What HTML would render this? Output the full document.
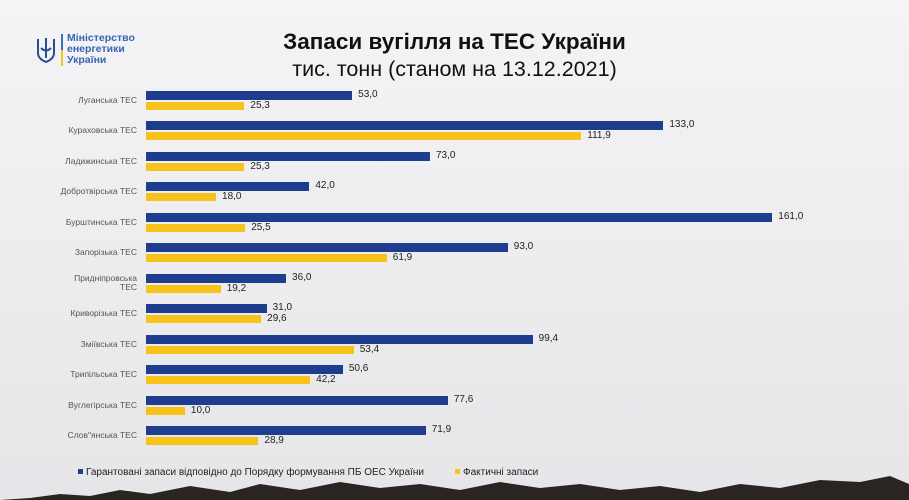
<!DOCTYPE html>
<html><head><meta charset="utf-8"><style>
body{margin:0;width:909px;height:500px;overflow:hidden;background:linear-gradient(#f4f4f6,#e6e6e9);font-family:"Liberation Sans",sans-serif;position:relative}
.t{position:absolute;left:0;width:909px;text-align:center;color:#111}
.lab{position:absolute;right:772px;font-size:8.5px;color:#555;text-align:right;line-height:9px}
.b{position:absolute;left:146px;height:9px;background:#1f3d8f}
.y{position:absolute;left:146px;height:8px;background:#f7c31a}
.v{position:absolute;font-size:10px;color:#222}
</style></head><body>
<svg style="position:absolute;left:36px;top:36px" width="20" height="28" viewBox="0 0 20 28"><path d="M2 3v14c0 4 3 7 8 9 5-2 8-5 8-9V3M10 2v20M5 12q5 5 10 0" fill="none" stroke="#2a4d8f" stroke-width="2"/></svg>
<div style="position:absolute;left:61px;top:34px;width:2px;height:32px;background:linear-gradient(#3b6fc4 50%,#f5c518 50%)"></div>
<div style="position:absolute;left:67px;top:33px;font-size:10.5px;font-weight:bold;color:#3a63b0;line-height:11px">Міністерство<br>енергетики<br>України</div>
<div class="t" style="top:29px;font-size:22.5px;font-weight:bold">Запаси вугілля на ТЕС України</div>
<div class="t" style="top:57px;font-size:21.5px">тис. тонн (станом на 13.12.2021)</div>
<div id="c"></div>
<div style="position:absolute;left:78px;top:467px;font-size:10px;color:#222"><span style="display:inline-block;width:5px;height:5px;background:#1f3d8f;margin-right:3px;vertical-align:1px"></span>Гарантовані запаси відповідно до Порядку формування ПБ ОЕС України</div>
<div style="position:absolute;left:455px;top:467px;font-size:10px;color:#222"><span style="display:inline-block;width:5px;height:5px;background:#f7c31a;margin-right:3px;vertical-align:1px"></span>Фактичні запаси</div>
<svg style="position:absolute;left:0;top:470px" width="909" height="30"><path d="M0 30 L30 28 60 24 90 26 120 20 150 24 190 16 230 22 260 14 300 20 340 12 380 18 420 14 460 20 500 12 540 18 580 14 620 20 660 16 700 22 740 14 780 18 820 10 860 12 890 6 909 14 909 30Z" fill="#2a2523"/></svg>
<script>
var d=[["Луганська ТЕС",53,25.3],["Кураховська ТЕС",133,111.9],["Ладижинська ТЕС",73,25.3],["Добротвірська ТЕС",42,18],["Бурштинська ТЕС",161,25.5],["Запорізька ТЕС",93,61.9],["Придніпровська<br>ТЕС",36,19.2],["Криворізька ТЕС",31,29.6],["Зміївська ТЕС",99.4,53.4],["Трипільська ТЕС",50.6,42.2],["Вуглегірська ТЕС",77.6,10],["Слов\"янська ТЕС",71.9,28.9]];
var h="",k=3.89;
d.forEach(function(r,i){var y=91+i*30.45;var two=r[0].indexOf("<br>")>0;
h+='<div class="lab" style="top:'+(y+(two?0:5))+'px">'+r[0]+'</div>';
h+='<div class="b" style="top:'+y+'px;width:'+(r[1]*k)+'px"></div>';
h+='<div class="y" style="top:'+(y+11)+'px;width:'+(r[2]*k)+'px"></div>';
h+='<div class="v" style="top:'+(y-2)+'px;left:'+(152+r[1]*k)+'px">'+r[1].toFixed(1).replace(".",",")+'</div>';
h+='<div class="v" style="top:'+(y+9)+'px;left:'+(152+r[2]*k)+'px">'+r[2].toFixed(1).replace(".",",")+'</div>';});
document.getElementById("c").innerHTML=h;
</script>
</body></html>
